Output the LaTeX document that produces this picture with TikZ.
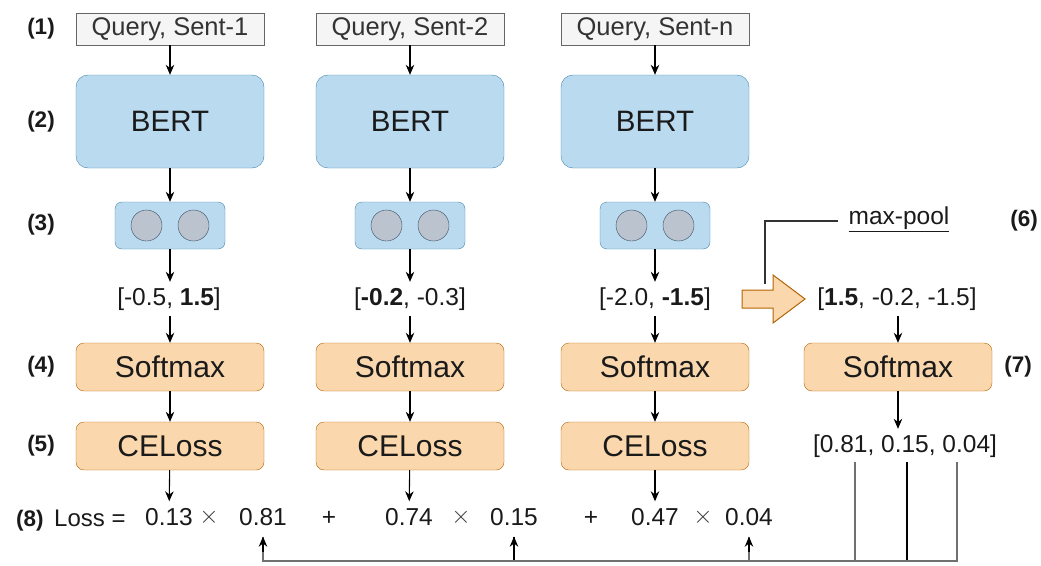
\documentclass[tikz,border=0pt]{standalone}
\usepackage{fontspec}
\setmainfont{Liberation Sans}
\usetikzlibrary{arrows.meta}
\definecolor{inFill}{HTML}{F5F5F5}
\definecolor{inLine}{HTML}{666666}
\definecolor{inText}{HTML}{333333}
\definecolor{bFill}{HTML}{B9DAEF}
\definecolor{bLine}{HTML}{4A86AE}
\definecolor{oFill}{HTML}{FAD7AC}
\definecolor{oLine}{HTML}{B46504}
\definecolor{cFill}{HTML}{BAC3CE}
\definecolor{cLine}{HTML}{3A4E62}
\definecolor{txt}{HTML}{1A1A1A}
\definecolor{gLine}{HTML}{707070}
\tikzset{
  lbl/.style={font=\fontsize{22.5}{24}\selectfont\bfseries, text=txt, inner sep=0},
  inbox/.style={draw=inLine, fill=inFill, text=inText, minimum width=188, minimum height=32, inner sep=0, font=\fontsize{25.5}{27}\selectfont},
  bert/.style={draw=bLine, fill=bFill, rounded corners=12, minimum width=188, minimum height=93, inner sep=0, font=\fontsize{29.5}{32}\selectfont, text=txt},
  pair/.style={draw=bLine, fill=bFill, rounded corners=7, minimum width=110, minimum height=47, inner sep=0},
  dot/.style={circle, draw=cLine, fill=cFill, minimum size=31, inner sep=0},
  obox/.style={draw=oLine, fill=oFill, rounded corners=8, minimum width=188, minimum height=48, inner sep=0, font=\fontsize{30}{32}\selectfont, text=txt},
  vec/.style={font=\fontsize{24.5}{26}\selectfont, text=txt, inner sep=0, minimum height=34},
  term/.style={font=\fontsize{24.5}{26}\selectfont, text=txt, inner xsep=0, text height=18, text depth=5, inner ysep=6},
  times/.style={font=\fontsize{32}{34}\selectfont, text=txt!85, inner sep=0},
  arr/.style={-{Stealth[length=10pt,width=8.5pt]}, line width=1.1pt, black},
  gl/.style={line width=1.4pt, gLine},
}
\begin{document}
\begin{tikzpicture}[x=1pt,y=-1pt]
\useasboundingbox (0,0) rectangle (1041,565);
% row labels
\node[lbl] (L1) at (41,29) {(1)};
\node[lbl] (L2) at (41,122) {(2)};
\node[lbl] (L3) at (41,225) {(3)};
\node[lbl] (L4) at (41,367) {(4)};
\node[lbl] (L5) at (41,446) {(5)};
\node[lbl] (L6) at (1024,221) {(6)};
\node[lbl] (L7) at (1018,367) {(7)};
% columns
\foreach \i/\x/\s in {1/170/1, 2/410/2, 3/655/n}{
  \node[inbox] (q\i) at (\x,29) {Query, Sent-\s};
  \node[bert] (b\i) at (\x,121.5) {BERT};
  \node[pair] (p\i) at (\x,225.5) {};
  \node[dot] (d\i a) at (\x-23.5,225.5) {};
  \node[dot] (d\i b) at (\x+23.5,225.5) {};
  \node[obox] (s\i) at (\x,367) {Softmax};
  \node[obox] (c\i) at (\x,446) {CELoss};
}
\node[vec] (v1) at (169,299) {[-0.5, \textbf{1.5}]};
\node[vec] (v2) at (410,299) {[\textbf{-0.2}, -0.3]};
\node[vec] (v3) at (655,299) {[-2.0, \textbf{-1.5}]};
\node[vec] (vm) at (897,299) {[\textbf{1.5}, -0.2, -1.5]};
\node[obox] (sm) at (898,367) {Softmax};
\node[vec] (pr) at (905,446) {[0.81, 0.15, 0.04]};
\coordinate (p81) at (855,462);
\coordinate (p15) at (907,462);
\coordinate (p04) at (957,462);
% loss line
\node[font=\fontsize{22.5}{24}\selectfont\bfseries, text=txt, anchor=base west, inner sep=0] (L8) at (16,526) {(8)};
\node[font=\fontsize{24}{26}\selectfont, text=txt, anchor=base west, inner sep=0] (loss) at (54,526) {Loss =};
\node[term] (t1a) at (169,519) {0.13};
\node[times] (x1) at (209,517) {$\times$};
\node[term] (t1b) at (263,519) {0.81};
\node[term] (pl1) at (329,519) {+};
\node[term] (t2a) at (409,519) {0.74};
\node[times] (x2) at (461,517) {$\times$};
\node[term] (t2b) at (514,519) {0.15};
\node[term] (pl2) at (591,519) {+};
\node[term] (t3a) at (655,519) {0.47};
\node[times] (x3) at (703,517) {$\times$};
\node[term] (t3b) at (749,519) {0.04};
% arrows in columns
\foreach \i in {1,2,3}{
  \draw[arr] (q\i) -- (b\i);
  \draw[arr] (b\i) -- (p\i);
  \draw[arr] (p\i) -- (p\i |- v\i.north);
  \draw[arr] (p\i |- v\i.south) -- (s\i);
  \draw[arr] (s\i) -- (c\i);
}
\draw[arr] (c1) -- (t1a);
\draw[arr] (c2) -- (t2a);
\draw[arr] (c3) -- (t3a);
\draw[arr] (sm |- vm.south) -- (sm);
\draw[arr] (sm) -- (sm |- pr.north);
% block arrow
\draw[draw=oLine, fill=oFill, line width=1pt, line join=miter]
  (742,290) -- (773,290) -- (773,275) -- (805,299) -- (773,323) -- (773,308) -- (742,308) -- cycle;
\coordinate (mp0) at (765,284);
\node[font=\fontsize{24.5}{26}\selectfont, text=txt, inner sep=1] (mp) at (899,219) {\underline{max-pool}};
\draw[line width=1.3pt, inText] (mp0) |- (838,221);
% connectors back to loss
\draw[line width=1.4pt, black] (p15) -- (907,561) -| (t2b.south);
\draw[gl] (p81) -- (855,561) -| (t1b.south);
\draw[gl] (p04) -- (957,561) -| (t3b.south);
\draw[arr] (263,552) -- (t1b.south);
\draw[arr] (514,552) -- (t2b.south);
\draw[arr] (749,552) -- (t3b.south);
\end{tikzpicture}
\end{document}
